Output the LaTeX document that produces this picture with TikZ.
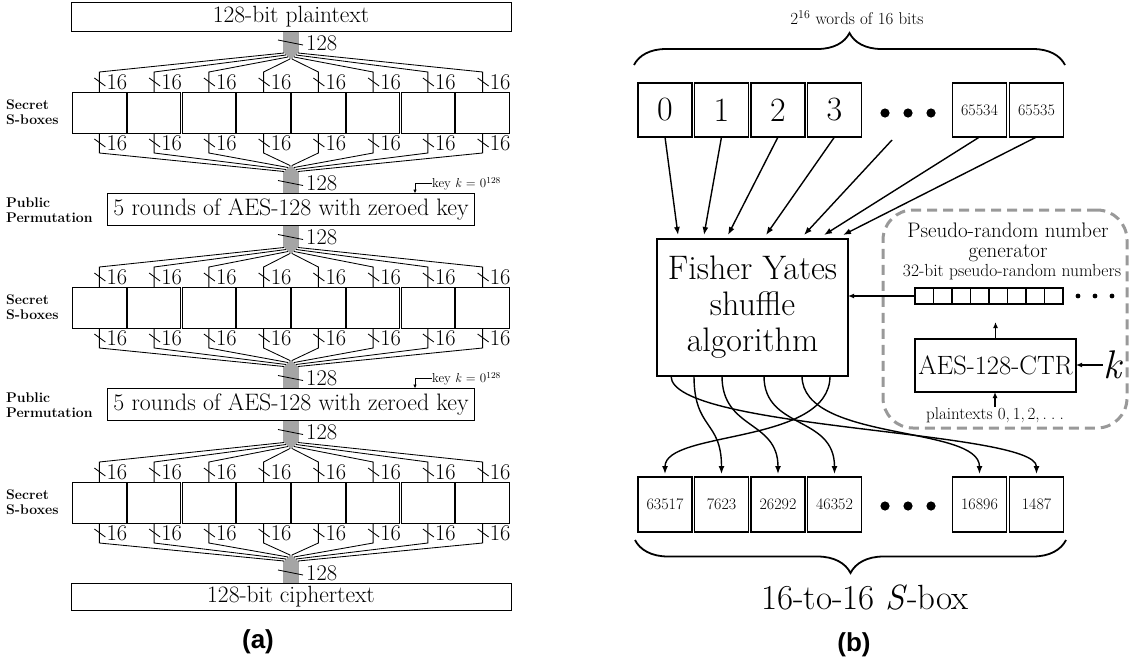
\documentclass[tikz,border=0pt]{standalone}
\usepackage{fontspec}
\newfontfamily\capfont{Liberation Sans}
\usetikzlibrary{arrows.meta,calc,decorations.pathreplacing}
\begin{document}
\begin{tikzpicture}[x=1pt,y=-1pt,
  abox/.style={draw,line width=1pt,inner sep=0pt,outer sep=0pt},
  bus/.style={line width=0.85pt},
  lab/.style={anchor=west,inner sep=0pt,font=\fontsize{22.5}{22.5}\selectfont},
  side/.style={anchor=west,align=left,inner sep=0pt,font=\fontsize{14}{15}\selectfont\bfseries},
  keylab/.style={anchor=west,inner sep=0pt,font=\fontsize{13}{13}\selectfont},
  bbox/.style={draw,line width=1.8pt,inner sep=0pt,outer sep=0pt,minimum width=54pt,minimum height=54pt},
  arr/.style={line width=1.4pt,-{Latex[length=8pt,width=6pt]}},
  arrs/.style={line width=1.3pt,-{Latex[length=6pt,width=5pt]}},
  caplab/.style={font=\capfont\bfseries\fontsize{26}{26}\selectfont,inner sep=0pt},
  ]
\useasboundingbox (0,0) rectangle (1130,664);
% ---------------- (a) ----------------
\node[abox,minimum width=440pt,minimum height=29pt,font=\fontsize{23.5}{23.5}\selectfont] (pt) at (291,16.5) {128-bit plaintext};
\node[abox,minimum width=367pt,minimum height=32pt,font=\fontsize{23.8}{23.8}\selectfont] (p1) at (291,209.5) {5 rounds of AES-128 with zeroed key};
\node[abox,minimum width=367pt,minimum height=32pt,font=\fontsize{23.8}{23.8}\selectfont] (p2) at (291,404.5) {5 rounds of AES-128 with zeroed key};
\node[abox,minimum width=440pt,minimum height=27pt,font=\fontsize{23.5}{23.5}\selectfont] (ct) at (291,596.5) {128-bit ciphertext};
\foreach \r/\y in {1/112.5,2/307.5,3/502.5}{
  \foreach \i in {1,...,8}{
    \node[abox,minimum width=53.5pt,minimum height=41pt] (s\r-\i) at ({72+54.75*(\i-0.5)},\y) {};
  }
}
\node[side] (sl1) at (6,112.5) {Secret\\S-boxes};
\node[side] (sl2) at (6,307.5) {Secret\\S-boxes};
\node[side] (sl3) at (6,502.5) {Secret\\S-boxes};
\node[side] (pl1) at (6,210) {Public\\Permutation};
\node[side] (pl2) at (6,405) {Public\\Permutation};
% fan-out
\foreach \src/\r in {pt/1,p1/2,p2/3}{
  \foreach \i in {1,...,8}{
    \pgfmathsetmacro\dx{(\i-4.5)*2}
    \pgfmathsetmacro\j{22+2*(3-(abs(\i-4.5)-0.5))}
    \draw[bus] ($(\src.south)+(\dx,0)$) -- ++(0,\j) -- ($(s\r-\i.north)+(0,-20)$) -- (s\r-\i.north);
    \draw[bus] ($(s\r-\i.north)+(-5,-14)$) -- ++(11,8);
    \node[lab] at ($(s\r-\i.north)+(7,-10)$) {16};
  }
  \draw[bus] ($(\src.south)+(-13,9)$) -- ++(25,5);
  \node[lab] at ($(\src.south)+(15,12)$) {128};
}
% fan-in
\foreach \r/\dst in {1/p1,2/p2,3/ct}{
  \foreach \i in {1,...,8}{
    \pgfmathsetmacro\dx{(\i-4.5)*2}
    \pgfmathsetmacro\j{22+2*(3-(abs(\i-4.5)-0.5))}
    \draw[bus] (s\r-\i.south) -- ++(0,20) -- ($(\dst.north)+(\dx,-\j)$) -- ++(0,\j);
    \draw[bus] ($(s\r-\i.south)+(-5,6)$) -- ++(11,8);
    \node[lab] at ($(s\r-\i.south)+(7,10)$) {16};
  }
  \draw[bus] ($(\dst.north)+(-13,-13)$) -- ++(25,5);
  \node[lab] at ($(\dst.north)+(15,-10)$) {128};
}
% keys
\foreach \p in {p1,p2}{
  \node[keylab] (key\p) at ($(\p.north)+(141,-10)$) {key \textit{k} = 0\textsuperscript{128}};
  \draw[line width=0.8pt,-{Latex[length=4pt,width=3.5pt]}] (key\p.west) -| ($(\p.north)+(124,0)$);
}
\node[caplab] (capa) at (258,642) {(a)};
% ---------------- (b) ----------------
\foreach \n/\x/\t in {t0/665/0,t1/721.5/1,t2/778/2,t3/834.5/3}{
  \node[bbox,font=\fontsize{34}{34}\selectfont] (\n) at (\x,110) {\t};
}
\node[bbox,font=\fontsize{16}{16}\selectfont] (t5) at (979.5,110) {65534};
\node[bbox,font=\fontsize{16}{16}\selectfont] (t6) at (1036.5,110) {65535};
\coordinate (tdots) at (908,113);
\foreach \x in {-23,0,23} \fill ($(tdots)+(\x,0)$) circle (4.6pt);
\foreach \n/\x/\t in {b0/665/63517,b1/721.5/7623,b2/778/26292,b3/834.5/46352,b5/979.5/16896,b6/1036.5/1487}{
  \node[bbox,minimum height=55pt,font=\fontsize{16}{16}\selectfont] (\n) at (\x,504.5) {\t};
}
\coordinate (bdots) at (908,506);
\foreach \x in {-23,0,23} \fill ($(bdots)+(\x,0)$) circle (4.6pt);
% braces
\draw[line width=1.8pt,decorate,decoration={brace,amplitude=32pt}] (634,65) -- (1065,65);
\node[font=\fontsize{17}{17}\selectfont,inner sep=0pt] (wtxt) at (857,18) {2\textsuperscript{16} words of 16 bits};
\draw[line width=1.8pt,decorate,decoration={brace,amplitude=33pt}] (1066,540) -- (635,540);
\node[font=\fontsize{35}{35}\selectfont,inner sep=0pt] (stxt) at (865,598) {16-to-16 \textit{S}-box};
% Fisher Yates
\node[draw,line width=2pt,minimum width=191pt,minimum height=137pt,inner sep=0pt,outer sep=0pt,align=center,font=\fontsize{34}{36}\selectfont] (fy) at (752.5,307.5) {Fisher Yates\\shuffle\\algorithm};
\draw[arr] (t0.south) -- ($(fy.north west)+(21,-4)$);
\draw[arr] (t1.south) -- ($(fy.north west)+(47,-4)$);
\draw[arr] (t2.south) -- ($(fy.north west)+(71,-4)$);
\draw[arr] (t3.south) -- ($(fy.north west)+(109,-4)$);
\draw[arr] ($(tdots)+(-16,27)$) -- ($(fy.north west)+(147,-4)$);
\draw[arr] (t5.south) -- ($(fy.north west)+(167,-4)$);
\draw[arr] (t6.south) -- ($(fy.north west)+(186,-4)$);
% shuffle curves
\draw[arr,shorten >=3pt] ($(fy.south west)+(173,0)$) .. controls +(0,69) and +(0,-47) .. (b0.north);
\draw[arr,shorten >=3pt] ($(fy.south west)+(37,0)$) .. controls +(0,54) and +(0,-57) .. (b1.north);
\draw[arr,shorten >=3pt] ($(fy.south west)+(65,0)$) .. controls +(0,54) and +(0,-57) .. (b2.north);
\draw[arr,shorten >=3pt] ($(fy.south west)+(107,0)$) .. controls +(0,54) and +(0,-62) .. (b3.north);
\draw[arr,shorten >=3pt] ($(fy.south west)+(145,0)$) .. controls +(0,66) and +(0,-52) .. (b5.north);
\draw[arr,shorten >=3pt] ($(fy.south west)+(14,0)$) .. controls +(0,54) and +(0,-47) .. (b6.north);
% PRNG
\node[draw=black!40,line width=3pt,dash pattern=on 10pt off 6pt,rounded corners=30pt,minimum width=244pt,minimum height=218pt,inner sep=0pt] (prng) at (1005,319) {};
\node[anchor=base,inner sep=0pt,font=\fontsize{21}{21}\selectfont] (pr1) at (1008,237) {Pseudo-random number};
\node[anchor=base,inner sep=0pt,font=\fontsize{21}{21}\selectfont] (pr2) at (1008,257) {generator};
\node[anchor=base,inner sep=0pt,font=\fontsize{17.5}{17.5}\selectfont] (pr3) at (1012,276) {32-bit pseudo-random numbers};
\foreach \i in {1,...,8}{
  \node[draw,line width=1.5pt,minimum width=18.5pt,minimum height=16pt,inner sep=0pt,outer sep=0pt] (r\i) at ({915+18.5*(\i-0.5)},296) {};
}
\foreach \x in {1078,1095,1112} \fill (\x,296) circle (2.4pt);
\draw[arrs] (r1.west) -- (r1.west -| fy.east);
\node[draw,line width=1.8pt,minimum width=161pt,minimum height=53pt,inner sep=0pt,outer sep=0pt,font=\fontsize{26.5}{26.5}\selectfont] (aes) at (995.5,365.5) {AES-128-CTR};
\coordinate (upend) at ($(aes.north)+(0,-17)$);
\draw[arrs] (aes.north) -- (upend);
\node[inner sep=0pt,font=\fontsize{40}{40}\selectfont\itshape] (kk) at (1112,365) {k};
\draw[arrs] (kk.west) -- (kk.west -| aes.east);
\node[inner sep=0pt,font=\fontsize{17}{17}\selectfont] (pl) at (995,415) {plaintexts 0,\,1,\,2,\,.\kern0.25em.\kern0.25em.};
\draw[arrs] (pl.north) -- (pl.north |- aes.south);
\node[caplab] (capb) at (854,645) {(b)};
\end{tikzpicture}
\end{document}
